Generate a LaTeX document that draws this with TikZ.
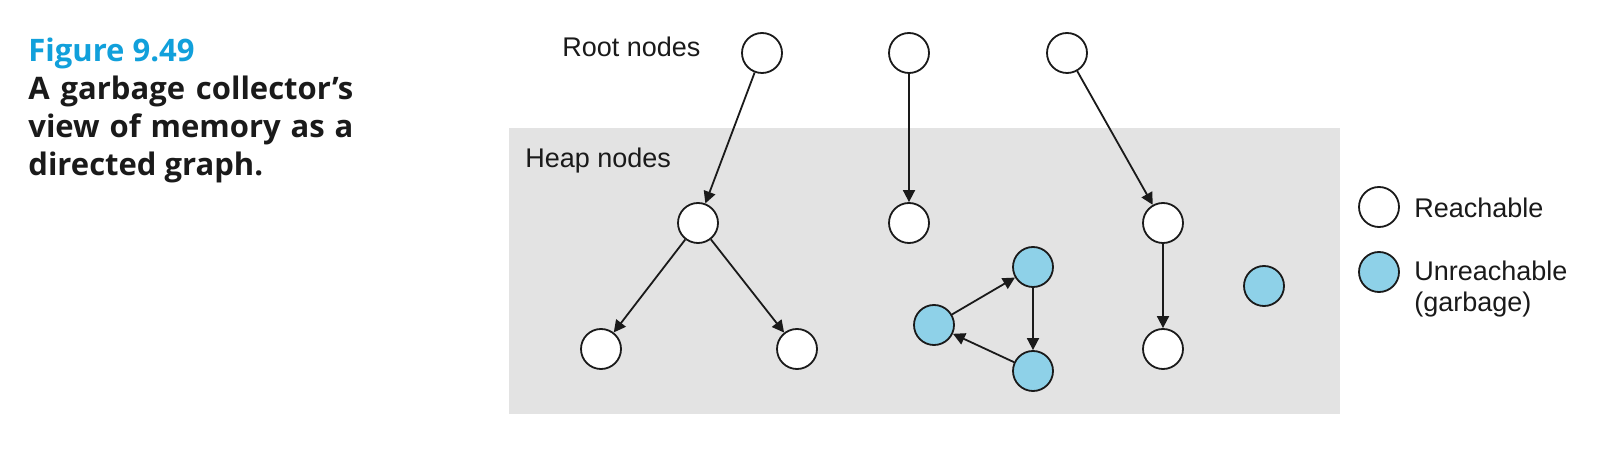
\documentclass[tikz,border=0pt]{standalone}
\usepackage{fontspec}
\setmainfont{Liberation Sans}
\newfontfamily\capfont{Open Sans}
\usetikzlibrary{arrows.meta}
\definecolor{heapgray}{RGB}{227,227,227}
\definecolor{garbage}{RGB}{142,209,232}
\definecolor{titleblue}{RGB}{17,160,219}
\definecolor{inkc}{RGB}{26,26,26}
\begin{document}
\begin{tikzpicture}[x=0.5pt,y=-0.5pt,
  obj/.style={circle,draw=inkc,line width=0.9pt,minimum size=20pt,inner sep=0pt},
  reach/.style={obj,fill=white},
  unreach/.style={obj,fill=garbage},
  ptr/.style={draw=inkc,line width=0.9pt,-{Triangle[length=6pt,width=6pt]}},
  lbl/.style={anchor=base west,inner sep=0pt,font=\fontsize{13.5pt}{16pt}\selectfont,text=inkc},
  captxt/.style={anchor=base west,inner sep=0pt,font=\capfont\bfseries\fontsize{15.5pt}{19pt}\selectfont,text=inkc}
]
\useasboundingbox[fill=white] (0,0) rectangle (1608,454);

% caption
\node[anchor=base west,inner sep=0pt,font=\capfont\bfseries\fontsize{15.5pt}{18pt}\selectfont,text=titleblue] (title) at (28,62) {Figure 9.49};
\node[captxt] (cap1) at (28,100) {\hbox to 162.5pt{A garbage collector’s}};
\node[captxt] (cap2) at (28,138) {\hbox to 162.5pt{view of memory as a}};
\node[captxt] (cap3) at (28,176) {directed graph.};

% heap area
\fill[heapgray] (509,128) rectangle (1340,414);
\node[lbl] (rootlbl) at (562,57) {Root nodes};
\node[lbl] (heaplbl) at (525,168) {Heap nodes};

% root nodes
\node[reach] (r1) at (762,53) {};
\node[reach] (r2) at (909,53) {};
\node[reach] (r3) at (1067,53) {};

% heap nodes
\node[reach] (a) at (698,223) {};
\node[reach] (b) at (909,223) {};
\node[reach] (c) at (1163,223) {};
\node[reach] (l1) at (601,349) {};
\node[reach] (l2) at (797,349) {};
\node[reach] (l3) at (1163,349) {};
\node[unreach] (gt) at (1033,267) {};
\node[unreach] (gl) at (934,325) {};
\node[unreach] (gb) at (1033,371) {};
\node[unreach] (gi) at (1264,286) {};

% pointers
\draw[ptr] (r1) -- (a);
\draw[ptr] (r2) -- (b);
\draw[ptr] (r3) -- (c);
\draw[ptr] (a) -- (l1);
\draw[ptr] (a) -- (l2);
\draw[ptr] (c) -- (l3);
\draw[ptr] (gt) -- (gb);
\draw[ptr] (gb) -- (gl);
\draw[ptr] (gl) -- (gt);

% legend
\node[reach] (legr) at (1379,207) {};
\node[unreach] (legu) at (1379,272) {};
\node[lbl] (legrt) at (1414,218) {Reachable};
\node[lbl] (legut) at (1414,281) {Unreachable};
\node[lbl] (leggt) at (1414,312) {(garbage)};
\end{tikzpicture}
\end{document}
